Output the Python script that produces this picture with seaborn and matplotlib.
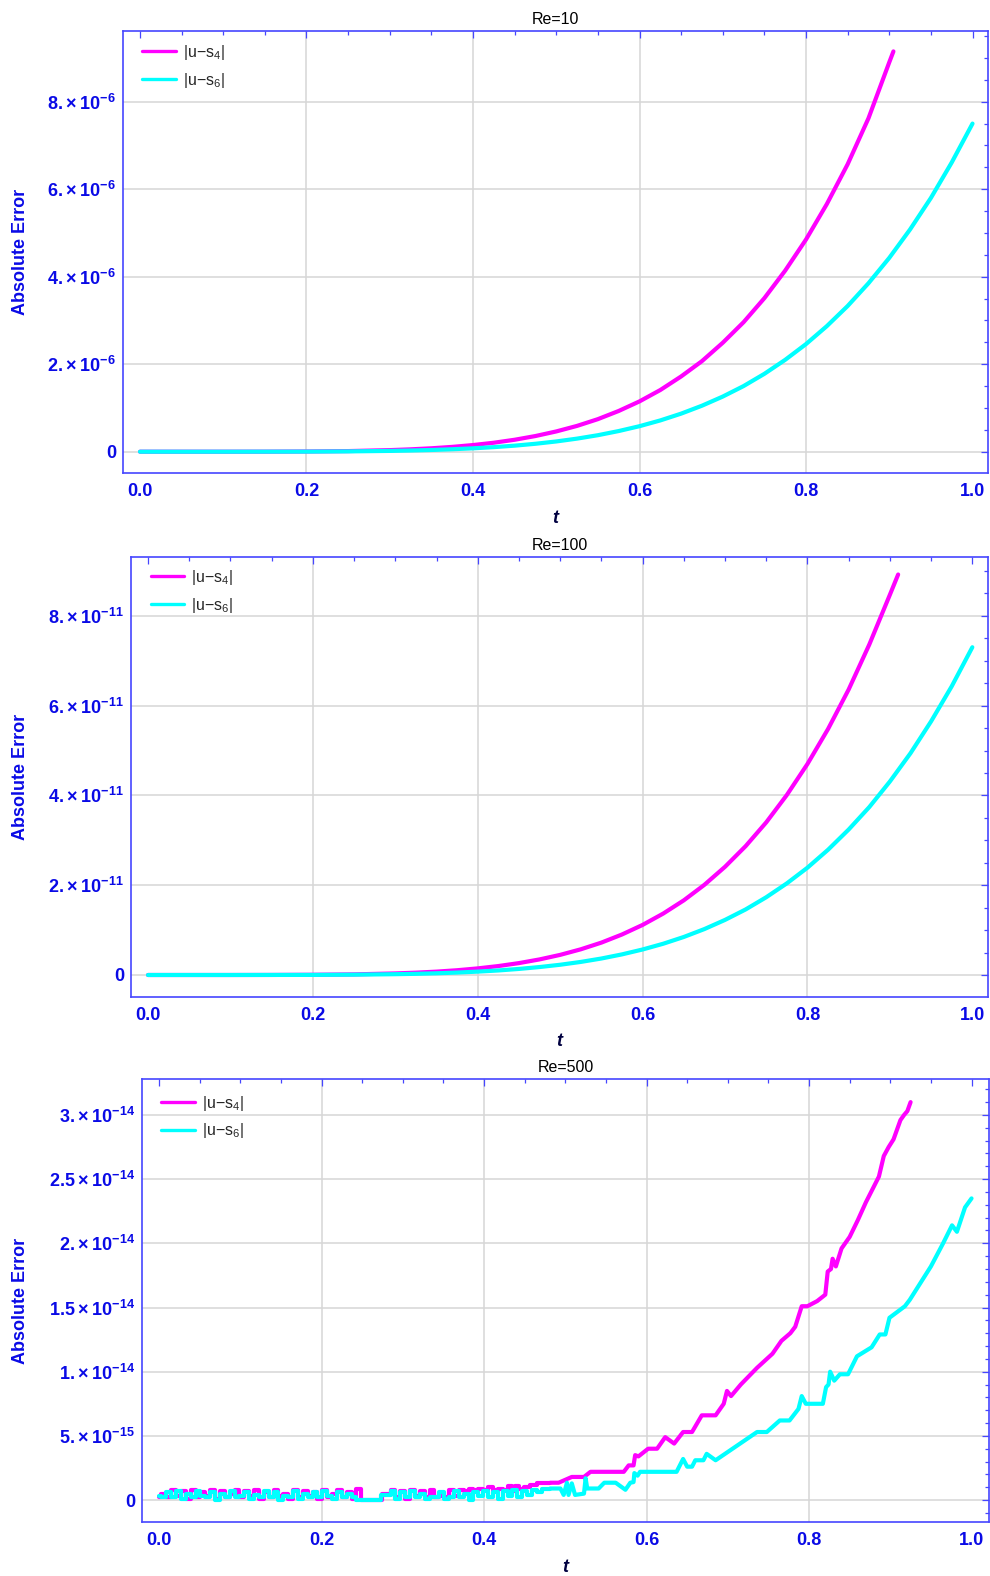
import numpy as np
import pandas as pd
import matplotlib
matplotlib.use("Agg")
import matplotlib.pyplot as plt
import seaborn as sns
from matplotlib.lines import Line2D
from matplotlib.ticker import FixedLocator, MultipleLocator

sns.set_style("white")
plt.rcParams["font.family"] = ["Liberation Sans", "DejaVu Sans"]
plt.rcParams["mathtext.fontset"] = "custom"
plt.rcParams["mathtext.rm"] = "Liberation Sans"
plt.rcParams["mathtext.it"] = "Liberation Sans:italic"
plt.rcParams["mathtext.bf"] = "Liberation Sans:bold"

# ---------------------------------------------------------------- data
SERIES = ["|u\u2212s$_4$|", "|u\u2212s$_6$|"]
COLORS = ["#ff00ff", "#00ffff"]

# Re = 10  (values in units of 1e-6)
t_re10_s4 = [0.0, 0.05, 0.1, 0.15, 0.2, 0.25,
             0.3, 0.325, 0.35, 0.375, 0.4, 0.425, 0.45, 0.475, 0.5, 0.525, 0.55, 0.575,
             0.6, 0.625, 0.65, 0.675, 0.7, 0.725, 0.75, 0.775, 0.8, 0.825, 0.85, 0.875,
             0.9, 0.905]
err_re10_s4 = [0, 0, 0, 0.001, 0.005, 0.014,
               0.036, 0.054, 0.078, 0.110, 0.152, 0.205, 0.273, 0.358, 0.463, 0.590, 0.744, 0.931,
               1.15, 1.41, 1.72, 2.07, 2.49, 2.96, 3.51, 4.14, 4.85, 5.66, 6.57, 7.62,
               8.90, 9.15]
t_re10_s6 = [0.0, 0.05, 0.1, 0.15, 0.2, 0.25,
             0.3, 0.325, 0.35, 0.375, 0.4, 0.425, 0.45, 0.475, 0.5, 0.525, 0.55, 0.575,
             0.6, 0.625, 0.65, 0.675, 0.7, 0.725, 0.75, 0.775, 0.8, 0.825, 0.85, 0.875,
             0.9, 0.925, 0.95, 0.975, 1.0]
err_re10_s6 = [0, 0, 0, 0.001, 0.002, 0.007,
               0.018, 0.027, 0.039, 0.056, 0.077, 0.104, 0.138, 0.181, 0.234, 0.299, 0.377, 0.472,
               0.583, 0.715, 0.870, 1.051, 1.26, 1.50, 1.78, 2.10, 2.46, 2.87, 3.33, 3.85,
               4.43, 5.08, 5.80, 6.61, 7.50]

# Re = 100  (values in units of 1e-11)
t_re100_s4 = [0.0, 0.05, 0.1, 0.15, 0.2, 0.25,
              0.3, 0.325, 0.35, 0.375, 0.4, 0.425, 0.45, 0.475, 0.5, 0.525, 0.55, 0.575,
              0.6, 0.625, 0.65, 0.675, 0.7, 0.725, 0.75, 0.775, 0.8, 0.825, 0.85, 0.875,
              0.9, 0.91]
err_re100_s4 = [0, 0, 0, 0.001, 0.005, 0.014,
                0.035, 0.052, 0.075, 0.106, 0.147, 0.199, 0.265, 0.347, 0.448, 0.572, 0.721, 0.902,
                1.115, 1.368, 1.663, 2.009, 2.41, 2.87, 3.40, 4.01, 4.70, 5.48, 6.36, 7.36,
                8.47, 8.92]
t_re100_s6 = [0.0, 0.05, 0.1, 0.15, 0.2, 0.25,
              0.3, 0.325, 0.35, 0.375, 0.4, 0.425, 0.45, 0.475, 0.5, 0.525, 0.55, 0.575,
              0.6, 0.625, 0.65, 0.675, 0.7, 0.725, 0.75, 0.775, 0.8, 0.825, 0.85, 0.875,
              0.9, 0.925, 0.95, 0.975, 1.0]
err_re100_s6 = [0, 0, 0, 0.001, 0.002, 0.007,
                0.018, 0.026, 0.038, 0.054, 0.075, 0.101, 0.135, 0.177, 0.228, 0.291, 0.367, 0.459,
                0.568, 0.696, 0.847, 1.023, 1.227, 1.46, 1.732, 2.041, 2.39, 2.79, 3.24, 3.74,
                4.31, 4.94, 5.65, 6.43, 7.30]

# Re = 500  (values in units of 1e-14), round-off dominated near t = 0
t_re500_head = [0.000, 0.006, 0.012, 0.018, 0.024, 0.030, 0.036, 0.042, 0.048, 0.054,
                0.060, 0.066, 0.072, 0.078, 0.084, 0.090, 0.096, 0.102, 0.108, 0.114,
                0.120, 0.126, 0.132, 0.138, 0.144, 0.150, 0.156, 0.162, 0.168, 0.174,
                0.180, 0.186, 0.192, 0.198, 0.204, 0.210, 0.216, 0.222, 0.228, 0.234,
                0.240]
err_re500_s4_head = [0.02, 0.05, 0.02, 0.08, 0.03, 0.07, 0.01, 0.08, 0.02, 0.06,
                     0.03, 0.08, 0.01, 0.07, 0.02, 0.05, 0.08, 0.02, 0.07, 0.03,
                     0.08, 0.01, 0.06, 0.02, 0.08, 0.03, 0.05, 0.01, 0.08, 0.02,
                     0.07, 0.03, 0.06, 0.01, 0.08, 0.02, 0.05, 0.08, 0.02, 0.06,
                     0.01]
err_re500_s6_head = [0.03, 0.02, 0.06, 0.02, 0.07, 0.01, 0.05, 0.02, 0.07, 0.03,
                     0.02, 0.06, 0.00, 0.05, 0.02, 0.07, 0.02, 0.03, 0.06, 0.01,
                     0.04, 0.02, 0.07, 0.02, 0.06, 0.00, 0.03, 0.02, 0.07, 0.01,
                     0.05, 0.02, 0.06, 0.02, 0.07, 0.03, 0.01, 0.06, 0.02, 0.05,
                     0.02]
re500_s4_tail = [
    (0.246, 0.09), (0.250, 0.00), (0.266, 0.00), (0.282, 0.05), (0.288, 0.08),
    (0.294, 0.02), (0.300, 0.07), (0.306, 0.01), (0.312, 0.08), (0.318, 0.03),
    (0.324, 0.07), (0.330, 0.02), (0.336, 0.08), (0.342, 0.02), (0.348, 0.03),
    (0.354, 0.02), (0.360, 0.08), (0.366, 0.03), (0.372, 0.08), (0.378, 0.07),
    (0.384, 0.09), (0.390, 0.08), (0.396, 0.09), (0.402, 0.08), (0.408, 0.10),
    (0.414, 0.08), (0.420, 0.09), (0.426, 0.08), (0.432, 0.11), (0.436, 0.07),
    (0.440, 0.11), (0.446, 0.09), (0.452, 0.10), (0.460, 0.12), (0.470, 0.13),
    (0.4815, 0.135), (0.4918, 0.135), (0.508, 0.18), (0.523, 0.18), (0.531, 0.22),
    (0.572, 0.22), (0.578, 0.27), (0.584, 0.27), (0.586, 0.35), (0.590, 0.34),
    (0.602, 0.40), (0.613, 0.40), (0.623, 0.49), (0.634, 0.44), (0.645, 0.53),
    (0.656, 0.53), (0.668, 0.66), (0.685, 0.66), (0.695, 0.75), (0.699, 0.85),
    (0.704, 0.81), (0.716, 0.90), (0.736, 1.03), (0.755, 1.14), (0.766, 1.24),
    (0.777, 1.30), (0.783, 1.35), (0.791, 1.51), (0.798, 1.51), (0.810, 1.55),
    (0.820, 1.60), (0.823, 1.78), (0.827, 1.80), (0.829, 1.88), (0.833, 1.82),
    (0.840, 1.96), (0.850, 2.05), (0.860, 2.18), (0.870, 2.32), (0.878, 2.42),
    (0.886, 2.52), (0.892, 2.68), (0.898, 2.75), (0.904, 2.81), (0.9125, 2.96),
    (0.917, 3.00), (0.921, 3.03), (0.925, 3.10),
]
re500_s6_tail = [
    (0.246, 0.00), (0.264, 0.00), (0.282, 0.04), (0.288, 0.07), (0.294, 0.01),
    (0.300, 0.06), (0.306, 0.02), (0.312, 0.07), (0.318, 0.02), (0.324, 0.05),
    (0.330, 0.01), (0.336, 0.02), (0.342, 0.02), (0.348, 0.06), (0.354, 0.01),
    (0.360, 0.02), (0.366, 0.07), (0.372, 0.02), (0.378, 0.05), (0.384, 0.00),
    (0.390, 0.06), (0.396, 0.03), (0.402, 0.07), (0.408, 0.02), (0.414, 0.06),
    (0.420, 0.01), (0.426, 0.07), (0.432, 0.03), (0.438, 0.08), (0.444, 0.02),
    (0.450, 0.07), (0.456, 0.04), (0.462, 0.08), (0.468, 0.06), (0.474, 0.09),
    (0.4815, 0.09), (0.494, 0.09), (0.498, 0.04), (0.502, 0.135), (0.504, 0.04),
    (0.508, 0.13), (0.512, 0.04), (0.523, 0.05), (0.525, 0.17), (0.527, 0.09),
    (0.541, 0.09), (0.548, 0.135), (0.562, 0.135), (0.574, 0.08), (0.580, 0.135),
    (0.584, 0.14), (0.585, 0.21), (0.589, 0.19), (0.592, 0.22), (0.637, 0.22),
    (0.641, 0.27), (0.645, 0.32), (0.650, 0.26), (0.656, 0.26), (0.660, 0.31),
    (0.670, 0.31), (0.674, 0.36), (0.685, 0.31), (0.736, 0.53), (0.748, 0.53),
    (0.764, 0.62), (0.776, 0.62), (0.787, 0.71), (0.791, 0.81), (0.796, 0.75),
    (0.817, 0.75), (0.821, 0.88), (0.824, 0.90), (0.826, 1.00), (0.831, 0.93),
    (0.838, 0.98), (0.848, 0.98), (0.859, 1.12), (0.877, 1.19), (0.887, 1.29),
    (0.894, 1.29), (0.899, 1.42), (0.918, 1.51), (0.924, 1.56), (0.935, 1.67),
    (0.950, 1.82), (0.965, 2.00), (0.976, 2.14), (0.982, 2.09), (0.992, 2.28),
    (1.000, 2.35),
]
NOISE_END = 0.4815   # round-off plateau region drawn as steps

X_TICKS = [0.0, 0.2, 0.4, 0.6, 0.8, 1.0]
X_LABELS = ["0.0", "0.2", "0.4", "0.6", "0.8", "1.0"]
X_GRID = [0.2, 0.4, 0.6, 0.8]

Y_TICKS_RE10 = [0, 2e-6, 4e-6, 6e-6, 8e-6]
Y_LABELS_RE10 = ["0", ("2.", "-6"), ("4.", "-6"), ("6.", "-6"), ("8.", "-6")]
Y_TICKS_RE100 = [0, 2e-11, 4e-11, 6e-11, 8e-11]
Y_LABELS_RE100 = ["0", ("2.", "-11"), ("4.", "-11"), ("6.", "-11"), ("8.", "-11")]
Y_TICKS_RE500 = [0, 0.5e-14, 1e-14, 1.5e-14, 2e-14, 2.5e-14, 3e-14]
Y_LABELS_RE500 = ["0", ("5.", "-15"), ("1.", "-14"), ("1.5", "-14"),
                  ("2.", "-14"), ("2.5", "-14"), ("3.", "-14")]

# ---------------------------------------------------------------- styling
FRAME = "#4646ff"
BLUE = "#0a0ae6"
GRID = "#d6d6d6"
LW = 3.0


def frame_of(t_a, v_a, t_b, v_b, scale):
    return pd.DataFrame({
        "t": list(t_a) + list(t_b),
        "err": np.array(list(v_a) + list(v_b)) * scale,
        "series": [SERIES[0]] * len(t_a) + [SERIES[1]] * len(t_b),
    })


def sci_label(item):
    if item == "0":
        return "0"
    mant, expo = item
    return mant + "\u2009\u00d7\u200910" + r"$^{\mathbf{%s}}$" % expo


def style_panel(ax, title, xlim, ylim, yticks, ylabels, yminor, ylab_x, leg_xy):
    for x in X_GRID:
        ax.axvline(x, color=GRID, lw=1.1, zorder=0)
    for y in yticks:
        ax.axhline(y, color=GRID, lw=1.1, zorder=0)
    ax.set_xlim(*xlim)
    ax.set_ylim(*ylim)
    ax.set_xlabel("")
    ax.set_ylabel("")
    ax.xaxis.set_major_locator(FixedLocator(X_TICKS))
    ax.set_xticklabels(X_LABELS)
    ax.xaxis.set_minor_locator(MultipleLocator(0.05))
    ax.yaxis.set_major_locator(FixedLocator(yticks))
    ax.set_yticklabels([sci_label(s) for s in ylabels])
    ax.yaxis.set_minor_locator(MultipleLocator(yminor))
    ax.tick_params(which="both", direction="in", top=True, right=True,
                   color=FRAME, width=0.9)
    ax.tick_params(which="major", length=4.8, labelsize=13, labelcolor=BLUE)
    ax.tick_params(axis="x", which="major", pad=7)
    ax.tick_params(axis="y", which="major", pad=5)
    ax.tick_params(which="minor", length=2.8)
    for lab in ax.get_xticklabels() + ax.get_yticklabels():
        lab.set_fontweight("bold")
    for sp in ax.spines.values():
        sp.set_color(FRAME)
        sp.set_linewidth(1.2)
        sp.set_visible(True)
    ax.set_title(title, fontsize=11.5, pad=5, color="black")
    ax.text(ylab_x, 0.5, "Absolute Error", transform=ax.transAxes, rotation=90,
            ha="center", va="center", color=BLUE, fontsize=13, fontweight="bold")
    ax.text(0.5, -0.102, "t", transform=ax.transAxes, ha="center", va="center",
            color="#000040", fontsize=13, fontweight="bold", style="italic")
    handles = [Line2D([], [], color=c, lw=2.4) for c in COLORS]
    ax.legend(handles, SERIES, loc="upper left", bbox_to_anchor=leg_xy,
              frameon=False, fontsize=11.5, handlelength=2.1, handletextpad=0.45,
              labelspacing=0.55, borderpad=0, borderaxespad=0)


fig = plt.figure(figsize=(9.9, 15.76), dpi=100)
ax1 = fig.add_axes([0.12424, 0.69987, 0.87374, 0.28046])
ax2 = fig.add_axes([0.13232, 0.36739, 0.86566, 0.27919])
ax3 = fig.add_axes([0.14343, 0.03426, 0.85556, 0.28109])

df1 = frame_of(t_re10_s4, err_re10_s4, t_re10_s6, err_re10_s6, 1e-6)
df2 = frame_of(t_re100_s4, err_re100_s4, t_re100_s6, err_re100_s6, 1e-11)
t4_tail, e4_tail = zip(*re500_s4_tail)
t6_tail, e6_tail = zip(*re500_s6_tail)
df3 = frame_of(t_re500_head + list(t4_tail), err_re500_s4_head + list(e4_tail),
               t_re500_head + list(t6_tail), err_re500_s6_head + list(e6_tail), 1e-14)

for ax, df in ((ax1, df1), (ax2, df2)):
    sns.lineplot(data=df, x="t", y="err", hue="series", palette=COLORS,
                 hue_order=SERIES, estimator=None, sort=False, lw=LW,
                 legend=False, ax=ax, zorder=3)

# Re = 500: round-off plateau as steps, then the growing part as a polyline
noise = df3[df3["t"] <= NOISE_END]
trend = df3[df3["t"] >= NOISE_END]
sns.lineplot(data=noise, x="t", y="err", hue="series", palette=COLORS,
             hue_order=SERIES, estimator=None, sort=False, lw=LW,
             drawstyle="steps-mid", legend=False, ax=ax3, zorder=3)
sns.lineplot(data=trend, x="t", y="err", hue="series", palette=COLORS,
             hue_order=SERIES, estimator=None, sort=False, lw=LW,
             legend=False, ax=ax3, zorder=3)

style_panel(ax1, "Re=10", (-0.0204, 1.0186), (-0.487e-6, 9.616e-6),
            Y_TICKS_RE10, Y_LABELS_RE10, 0.5e-6, -0.119, (0.022, 0.973))
style_panel(ax2, "Re=100", (-0.0206, 1.019), (-0.49e-11, 9.31e-11),
            Y_TICKS_RE100, Y_LABELS_RE100, 0.5e-11, -0.1295, (0.023, 0.975))
style_panel(ax3, "Re=500", (-0.021, 1.0215), (-0.171e-14, 3.28e-14),
            Y_TICKS_RE500, Y_LABELS_RE500, 0.1e-14, -0.144, (0.023, 0.967))

fig.savefig("out.png", dpi=100)
